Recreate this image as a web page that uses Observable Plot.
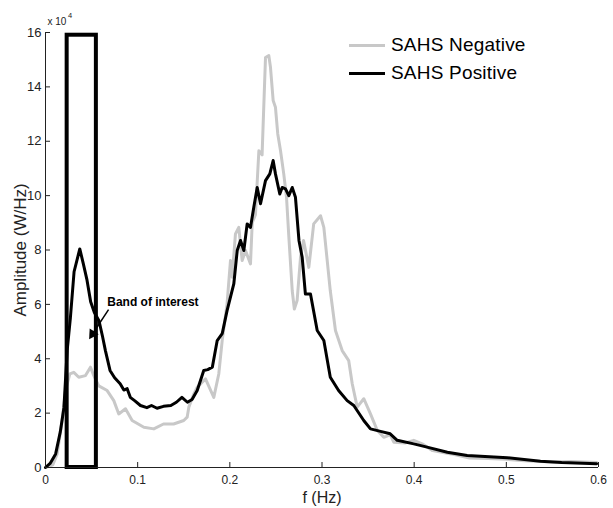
<!DOCTYPE html>
<html>
<head>
<meta charset="utf-8">
<script src="https://cdn.jsdelivr.net/npm/d3@7"></script>
<script src="https://cdn.jsdelivr.net/npm/@observablehq/plot@0.6"></script>
<style>
  html, body { margin: 0; padding: 0; background: #fff; }
  #wrap { position: relative; width: 613px; height: 508px; font-family: "Liberation Sans", Arial, sans-serif; }
  #legend { position: absolute; left: 349px; top: 31px; font-size: 19px; letter-spacing: 0.2px; color: #000; }
  #legend .row { display: flex; align-items: center; height: 28px; }
  #legend .sw { width: 36px; height: 0; border-top-style: solid; border-top-width: 3px; margin-right: 6px; }
</style>
</head>
<body>
<div id="wrap"></div>
<script>
// Frequency (Hz) and amplitude (x 10^4 W/Hz)
const negF = [0,0.008,0.0127,0.018,0.0217,0.0264,0.0307,0.0361,0.0434,0.0488,0.0524,0.0578,0.0669,0.0741,0.0795,0.0868,0.094,0.1067,0.1175,0.128,0.139,0.15,0.1537,0.1555,0.161,0.1646,0.1736,0.1826,0.188,0.1917,0.197,0.2007,0.2025,0.2061,0.2097,0.2134,0.217,0.2224,0.2243,0.2278,0.2315,0.235,0.2387,0.2423,0.2441,0.247,0.2495,0.252,0.255,0.2585,0.2615,0.264,0.2677,0.27,0.273,0.2767,0.28,0.2857,0.291,0.2984,0.302,0.309,0.3146,0.3219,0.329,0.3328,0.3382,0.3453,0.3526,0.36,0.367,0.374,0.378,0.39,0.3996,0.41,0.42,0.44,0.46,0.48,0.5,0.52,0.55,0.57,0.598];
const negV = [0,0.1,0.5,1.73,2.83,3.44,3.5,3.32,3.38,3.69,3.38,3.0,2.83,2.46,1.97,2.16,1.73,1.48,1.42,1.6,1.6,1.73,1.85,2.22,2.71,2.95,3.26,2.58,3.44,4.67,6.02,7.61,7.0,8.59,8.83,7.61,7.98,7.49,9.0,9.3,11.65,11.5,15.08,15.15,14.72,13.5,13.25,12.27,11.65,10.8,9.94,8.5,6.5,5.83,6.14,7.73,8.35,7.36,8.96,9.26,8.83,6.5,5.04,4.3,3.93,3.08,2.22,2.53,1.97,1.36,1.11,1.2,0.93,0.9,1.0,0.85,0.62,0.5,0.35,0.33,0.3,0.25,0.2,0.22,0.18];

const posF = [0,0.005,0.011,0.016,0.02,0.0235,0.027,0.031,0.0372,0.041,0.045,0.049,0.053,0.058,0.062,0.065,0.07,0.075,0.081,0.085,0.0886,0.092,0.097,0.103,0.11,0.115,0.121,0.128,0.136,0.142,0.148,0.154,0.159,0.1646,0.1717,0.176,0.181,0.1863,0.1917,0.197,0.2043,0.208,0.2116,0.2152,0.2188,0.2224,0.226,0.2297,0.2333,0.2387,0.2434,0.247,0.2495,0.2542,0.2568,0.2604,0.264,0.2677,0.2712,0.275,0.2785,0.282,0.2875,0.2948,0.302,0.309,0.318,0.3273,0.3345,0.3453,0.3526,0.3635,0.374,0.3816,0.3996,0.414,0.436,0.4575,0.501,0.537,0.56,0.598];
const posV = [0,0.15,0.5,1.3,2.2,4.3,5.5,7.2,8.04,7.5,6.9,6.1,5.7,5.4,4.8,4.3,3.57,3.3,3.08,2.85,2.9,2.58,2.45,2.28,2.2,2.28,2.18,2.25,2.28,2.4,2.58,2.4,2.5,2.83,3.57,3.6,3.69,4.67,4.92,5.77,6.75,7.98,8.35,7.98,8.96,8.83,9.57,10.3,9.7,10.55,10.8,11.29,10.8,10.06,10.3,10.25,10.0,10.3,9.94,8.35,7.73,6.38,6.38,5.04,4.67,3.32,2.83,2.46,2.28,1.73,1.42,1.33,1.24,1.0,0.87,0.75,0.56,0.44,0.36,0.23,0.18,0.14];

const seriesNames = ["SAHS Negative", "SAHS Positive"];
const seriesColors = ["#c8c8c8", "#000000"];
const xTicks = [0, 0.1, 0.2, 0.3, 0.4, 0.5, 0.6];
const yTicks = [0, 2, 4, 6, 8, 10, 12, 14, 16];
const band = [0.0235, 0.0552];   // band of interest (Hz)
const bandTop = [15.9];
const annotation = ["Band of interest"];
const annotationPos = [0.067, 6.09];
const arrowFrom = [0.0684, 5.81];
const arrowHead = [0.051, 4.91];

const neg = negF.map((f, i) => ({f, v: negV[i], s: seriesNames[0]}));
const pos = posF.map((f, i) => ({f, v: posV[i], s: seriesNames[1]}));

const font = '"Liberation Sans", Arial, sans-serif';
const fmt = d => String(+d.toFixed(1));

const chart = Plot.plot({
  width: 613,
  height: 508,
  marginLeft: 45,
  marginRight: 15,
  marginTop: 32,
  marginBottom: 41,
  style: {fontFamily: font, fontSize: "12px", background: "white", overflow: "visible"},
  x: {domain: [0, 0.6]},
  y: {domain: [0, 16]},
  marks: [
    Plot.line(neg, {x: "f", y: "v", stroke: seriesColors[0], strokeWidth: 3, strokeLinejoin: "round"}),
    Plot.line(pos, {x: "f", y: "v", stroke: seriesColors[1], strokeWidth: 3, strokeLinejoin: "round"}),
    Plot.rect([{x1: band[0], x2: band[1], y1: 0, y2: bandTop[0]}], {x1: "x1", x2: "x2", y1: "y1", y2: "y2", fill: "none", stroke: "black", strokeWidth: 4}),
    Plot.ruleX([0], {stroke: "#222", strokeWidth: 1}),
    Plot.ruleY([0], {stroke: "#222", strokeWidth: 1}),
    Plot.axisX({ticks: xTicks, tickSize: -5, text: null, stroke: "#222"}),
    Plot.axisX({ticks: xTicks, tickSize: 0, tickPadding: 8, tickFormat: fmt, fontSize: 12, fill: "#222"}),
    Plot.axisY({ticks: yTicks, tickSize: -5, text: null, stroke: "#222"}),
    Plot.axisY({ticks: yTicks, tickSize: 0, tickPadding: 4, tickFormat: fmt, fontSize: 13, fill: "#222"}),
    Plot.link([0], {x1: () => arrowFrom[0], y1: () => arrowFrom[1], x2: () => arrowHead[0], y2: () => arrowHead[1], stroke: "black", strokeWidth: 1.5}),
    Plot.dot([0], {x: () => arrowHead[0], y: () => arrowHead[1], symbol: "triangle", r: 4, rotate: 213, fill: "black", stroke: "none"}),
    Plot.text(annotation, {x: () => annotationPos[0], y: () => annotationPos[1], text: d => d, textAnchor: "start", fontSize: 12, fontWeight: "bold", fill: "black", letterSpacing: "-0.7px"}),
    Plot.text(["Amplitude (W/Hz)"], {frameAnchor: "left", textAnchor: "middle", lineAnchor: "middle", dx: -25, dy: 0, rotate: -90, fontSize: 17, letterSpacing: "1px", fill: "#222"}),
    Plot.text(["f (Hz)"], {frameAnchor: "bottom", textAnchor: "middle", lineAnchor: "middle", dx: 0, dy: 30, fontSize: 16, letterSpacing: "0.8px", fill: "#222"}),
    Plot.text(["x 10"], {frameAnchor: "top-left", textAnchor: "start", lineAnchor: "middle", dx: 2, dy: -11, fontSize: 10, fill: "#222"}),
    Plot.text(["4"], {frameAnchor: "top-left", textAnchor: "start", lineAnchor: "middle", dx: 22.5, dy: -17, fontSize: 7.5, fill: "#222"})
  ]
});

const wrap = document.getElementById("wrap");
wrap.appendChild(chart);

const legend = document.createElement("div");
legend.id = "legend";
seriesNames.forEach((name, i) => {
  const row = document.createElement("div");
  row.className = "row";
  const sw = document.createElement("span");
  sw.className = "sw";
  sw.style.borderTopColor = seriesColors[i];
  const t = document.createElement("span");
  t.textContent = name;
  row.appendChild(sw);
  row.appendChild(t);
  legend.appendChild(row);
});
wrap.appendChild(legend);
</script>
</body>
</html>
